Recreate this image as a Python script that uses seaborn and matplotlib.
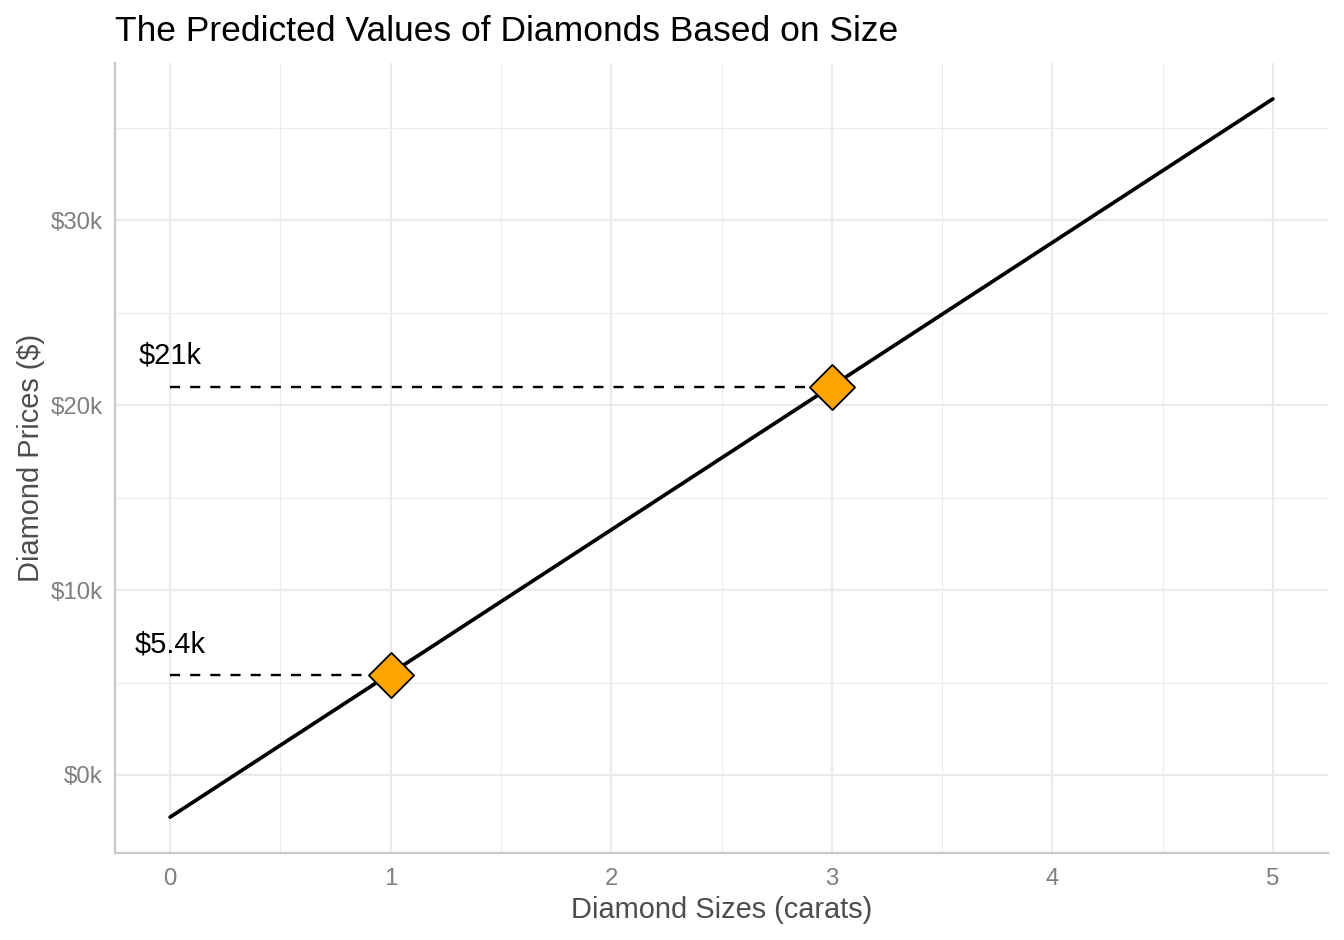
import matplotlib
matplotlib.use("Agg")
import matplotlib.pyplot as plt
import seaborn as sns
import pandas as pd
import numpy as np

# Data
line_carats = [0, 5]
line_prices = [-2280, 36570]
point_carats = [1, 3]
point_prices = [5400, 21000]
point_labels = ["$5.4k", "$21k"]
x_ticks = [0, 1, 2, 3, 4, 5]
y_ticks = [0, 10000, 20000, 30000]
y_tick_labels = ["$0k", "$10k", "$20k", "$30k"]

sns.set_theme(style="white")
plt.rcParams["font.family"] = ["Liberation Sans", "DejaVu Sans"]

fig = plt.figure(figsize=(1344 / 144, 940 / 144), dpi=144)
ax = fig.add_axes([115 / 1344, 1 - 853 / 940, (1328 - 115) / 1344, (853 - 63) / 940])

line_df = pd.DataFrame({"carat": line_carats, "price": line_prices})
pts_df = pd.DataFrame({"carat": point_carats, "price": point_prices})

# dashed guides
for cx, py in zip(point_carats, point_prices):
    ax.plot([0, cx], [py, py], color="black", lw=1.2, ls=(0, (4.2, 4.2)), zorder=3)

sns.lineplot(data=line_df, x="carat", y="price", color="black", lw=1.85, ax=ax, zorder=4)
sns.scatterplot(data=pts_df, x="carat", y="price", marker="D", s=255, color="#FFA500",
                edgecolor="black", linewidth=0.9, ax=ax, zorder=5)

for py, lab in zip(point_prices, point_labels):
    ax.annotate(lab, xy=(0, py), xytext=(0, 15.5), textcoords="offset points",
                ha="center", va="center", fontsize=14.5, color="black")

ax.set_xlim(-0.25, 5.25)
ymin, ymax = min(line_prices), max(line_prices)
pad = 0.05 * (ymax - ymin)
ax.set_ylim(ymin - pad, ymax + pad)

ax.set_xticks(x_ticks)
ax.set_xticklabels([str(t) for t in x_ticks])
ax.set_yticks(y_ticks)
ax.set_yticklabels(y_tick_labels)
ax.set_xticks([0.5, 1.5, 2.5, 3.5, 4.5], minor=True)
ax.set_yticks([5000, 15000, 25000, 35000], minor=True)

ax.grid(True, which="major", color="#ebebeb", lw=1.1)
ax.grid(True, which="minor", color="#ebebeb", lw=0.55)
ax.set_axisbelow(True)
ax.tick_params(which="both", length=0, labelsize=12, labelcolor="#7f7f7f", pad=6)
ax.tick_params(axis="x", pad=7.5)

for s in ["top", "right"]:
    ax.spines[s].set_visible(False)
for s in ["left", "bottom"]:
    ax.spines[s].set_visible(True)
    ax.spines[s].set_color("#c8c8c8")
    ax.spines[s].set_linewidth(1.1)

ax.set_xlabel("Diamond Sizes (carats)", fontsize=14.5, color="#4d4d4d", labelpad=3)
ax.set_ylabel("Diamond Prices ($)", fontsize=14.5, color="#4d4d4d", labelpad=3)
ax.set_title("The Predicted Values of Diamonds Based on Size", fontsize=17.7,
             loc="left", color="black", pad=11)

fig.savefig("out.png", dpi=144)
